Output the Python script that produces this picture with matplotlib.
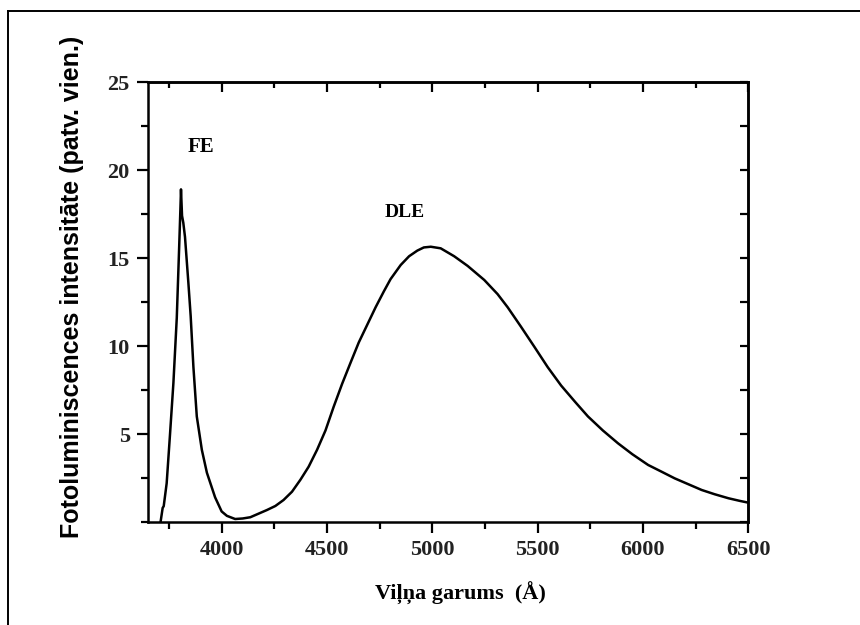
import matplotlib.pyplot as plt
from matplotlib.lines import Line2D
from matplotlib.ticker import MultipleLocator

# photoluminescence spectrum, wavelength in angstrom
wavelength = [3710, 3720, 3725, 3739, 3755, 3771, 3787, 3798, 3804, 3807,
              3812, 3818, 3826, 3842, 3853, 3866, 3882, 3906, 3930, 3969,
              4000, 4025, 4064, 4100, 4136, 4215, 4255, 4294, 4334, 4374,
              4413, 4453, 4493, 4532, 4572, 4612, 4651, 4691, 4731, 4770,
              4802, 4850, 4890, 4929, 4960, 4993, 5040, 5104, 5168, 5247,
              5310, 5358, 5421, 5485, 5548, 5612, 5680, 5739, 5810, 5882,
              5950, 6025, 6090, 6151, 6215, 6279, 6340, 6406, 6460, 6500]
intensity = [0.0, 0.8, 0.9, 2.2, 5.0, 7.9, 11.6, 15.5, 17.7, 18.9,
             17.4, 17.0, 16.2, 13.6, 11.7, 8.8, 6.0, 4.1, 2.8, 1.4,
             0.6, 0.35, 0.17, 0.2, 0.27, 0.68, 0.91, 1.25, 1.72, 2.4,
             3.14, 4.1, 5.2, 6.55, 7.85, 9.05, 10.2, 11.2, 12.2, 13.1,
             13.8, 14.6, 15.1, 15.42, 15.6, 15.64, 15.55, 15.1, 14.55, 13.75,
             12.95, 12.2, 11.1, 9.95, 8.8, 7.75, 6.8, 6.0, 5.2, 4.47,
             3.85, 3.24, 2.85, 2.48, 2.15, 1.82, 1.58, 1.35, 1.2, 1.1]

x_major = [4000, 4500, 5000, 5500, 6000, 6500]
y_major = [5, 10, 15, 20, 25]

serif = ["Liberation Serif", "DejaVu Serif"]
sans = ["Liberation Sans", "DejaVu Sans"]

fig = plt.figure(figsize=(8.6, 6.25), dpi=100)
ax = fig.add_axes([0.172, 0.1648, 0.698, 0.704])

ax.plot(wavelength, intensity, color="black", lw=1.8)

ax.set_xlim(3650, 6500)
ax.set_ylim(0, 25)
ax.set_xticks(x_major)
ax.set_yticks(y_major)
ax.xaxis.set_minor_locator(MultipleLocator(250))
ax.yaxis.set_minor_locator(MultipleLocator(2.5))
ax.tick_params(which="major", direction="out", length=8, width=1.6, pad=5)
ax.tick_params(which="minor", direction="out", length=5, width=1.6)
for lbl in ax.get_xticklabels() + ax.get_yticklabels():
    lbl.set_fontfamily(serif)
    lbl.set_fontweight("bold")
    lbl.set_fontsize(16)
    lbl.set_color("#222222")
for sp in ax.spines.values():
    sp.set_linewidth(1.8)

# mirrored ticks pointing inward on top and right
top = ax.secondary_xaxis("top")
top.set_xticks(x_major)
top.xaxis.set_minor_locator(MultipleLocator(250))
top.tick_params(which="major", direction="in", length=7, width=1.6, labeltop=False)
top.tick_params(which="minor", direction="in", length=4, width=1.6)
right = ax.secondary_yaxis("right")
right.set_yticks(y_major)
right.yaxis.set_minor_locator(MultipleLocator(2.5))
right.tick_params(which="both", direction="in", length=6, width=1.6, labelright=False)
top.spines["top"].set_linewidth(1.8)
right.spines["right"].set_linewidth(1.8)

ax.set_xlabel("Viļņa garums  (Å)", family=serif, fontweight="bold", fontsize=16)
ax.xaxis.set_label_coords(0.52, -0.137)
ax.set_ylabel("Fotoluminiscences intensitāte (patv. vien.)", family=sans,
              fontweight="bold", fontsize=18)
ax.yaxis.set_label_coords(-0.107, 0.535)

ax.text(3900, 21.3, "FE", family=serif, fontweight="bold", fontsize=15,
        ha="center", va="center")
ax.text(4870, 17.6, "DLE", family=serif, fontweight="bold", fontsize=14,
        ha="center", va="center")

# frame lines along the top and left edge
fig.add_artist(Line2D([8 / 860, 1.0], [1 - 10.5 / 625] * 2,
                      transform=fig.transFigure, color="black", lw=1.4))
fig.add_artist(Line2D([8 / 860] * 2, [0.0, 1 - 10.5 / 625],
                      transform=fig.transFigure, color="black", lw=1.4))

fig.savefig("out.png", dpi=100)
